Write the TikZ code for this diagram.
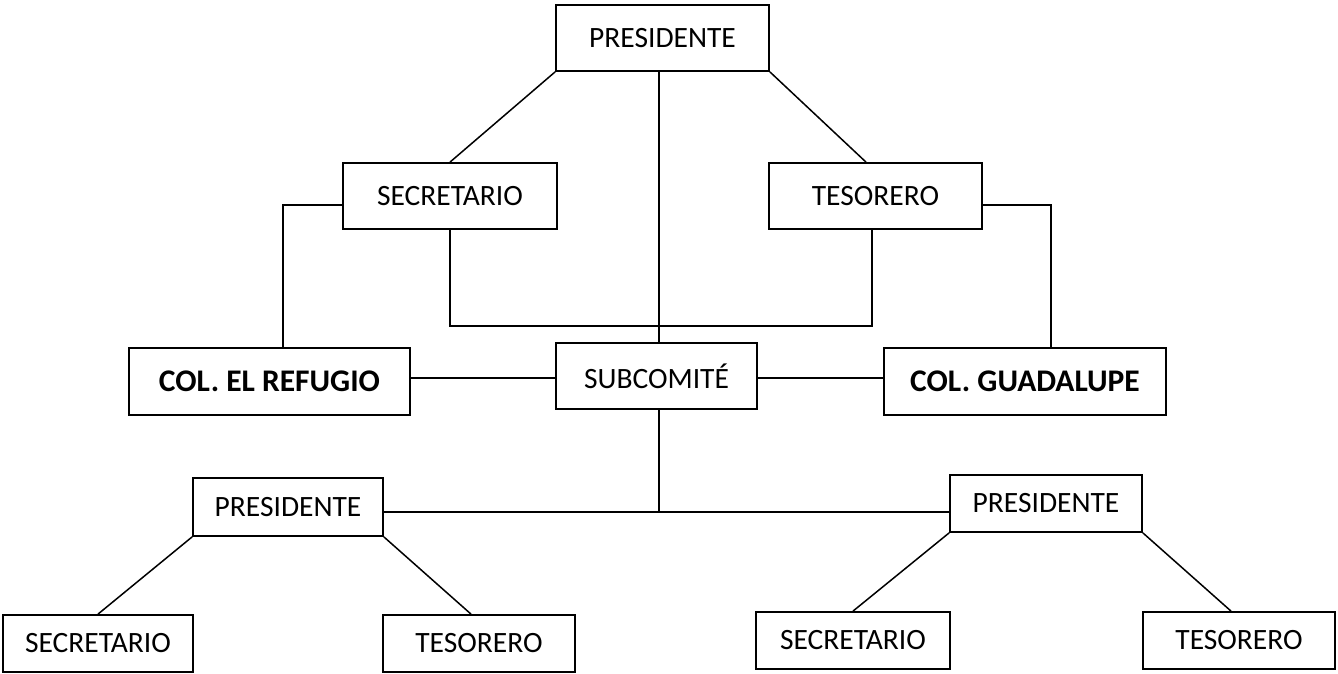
\documentclass[tikz,border=0pt]{standalone}
\usepackage{fontspec}
\setmainfont{Carlito}
\begin{document}
\begin{tikzpicture}[x=1pt,y=-1pt,
  box/.style={draw, line width=1.8pt, inner sep=0pt, font=\fontsize{29.5}{33}\selectfont},
  boldbox/.style={box, font=\fontsize{31.5}{35}\selectfont\bfseries},
  conn/.style={line width=1.5pt}]
\useasboundingbox (0,0) rectangle (1338,673);
\node[box, minimum width=213pt, minimum height=66pt] (P0) at (662.5,38) {PRESIDENTE};
\node[box, minimum width=214pt, minimum height=66pt] (S1) at (450,196) {SECRETARIO};
\node[box, minimum width=213pt, minimum height=66pt] (T1) at (875.5,196) {TESORERO};
\node[boldbox, minimum width=281pt, minimum height=67pt] (R) at (269.5,381.5) {COL. EL REFUGIO};
\node[box, minimum width=201pt, minimum height=66pt] (SUB) at (656.5,376) {SUBCOMITÉ};
\node[boldbox, minimum width=282pt, minimum height=67pt] (G) at (1025,381.5) {COL. GUADALUPE};
\node[box, minimum width=190pt, minimum height=58pt] (PL) at (288,507) {PRESIDENTE};
\node[box, minimum width=192pt, minimum height=57pt] (PR) at (1046,503.5) {PRESIDENTE};
\node[box, minimum width=190pt, minimum height=57pt] (SL) at (98,643.5) {SECRETARIO};
\node[box, minimum width=192pt, minimum height=57pt] (TL) at (479,643.5) {TESORERO};
\node[box, minimum width=194pt, minimum height=57pt] (SR) at (853,640.5) {SECRETARIO};
\node[box, minimum width=192pt, minimum height=57pt] (TR) at (1239,640.5) {TESORERO};
\coordinate (mid) at (659,326);
\coordinate (bh) at (659,512);
% top level
\draw[conn] (P0.south west) -- (S1.north);
\draw[conn] (P0.south east) -- ([xshift=-9.5pt]T1.north);
\draw[conn] ([xshift=-3.5pt]P0.south) -- ([xshift=2.5pt]SUB.north);
\draw[conn] (S1.south) |- (mid) -| ([xshift=-3.5pt]T1.south);
\draw[conn] ([yshift=-9pt]S1.west) -| ([xshift=13.5pt]R.north);
\draw[conn] ([yshift=-9pt]T1.east) -| ([xshift=26pt]G.north);
\draw[conn] ([yshift=3.5pt]R.east) -- ([yshift=-2pt]SUB.west);
\draw[conn] ([yshift=-2pt]SUB.east) -- ([yshift=3.5pt]G.west);
% bottom level
\draw[conn] ([xshift=2.5pt]SUB.south) -- (bh);
\draw[conn] ([yshift=-5pt]PL.east) -- ([yshift=-8.5pt]PR.west);
\draw[conn] (PL.south west) -- (SL.north);
\draw[conn] (PL.south east) -- ([xshift=-8pt]TL.north);
\draw[conn] (PR.south west) -- (SR.north);
\draw[conn] (PR.south east) -- ([xshift=-8pt]TR.north);
\end{tikzpicture}
\end{document}
